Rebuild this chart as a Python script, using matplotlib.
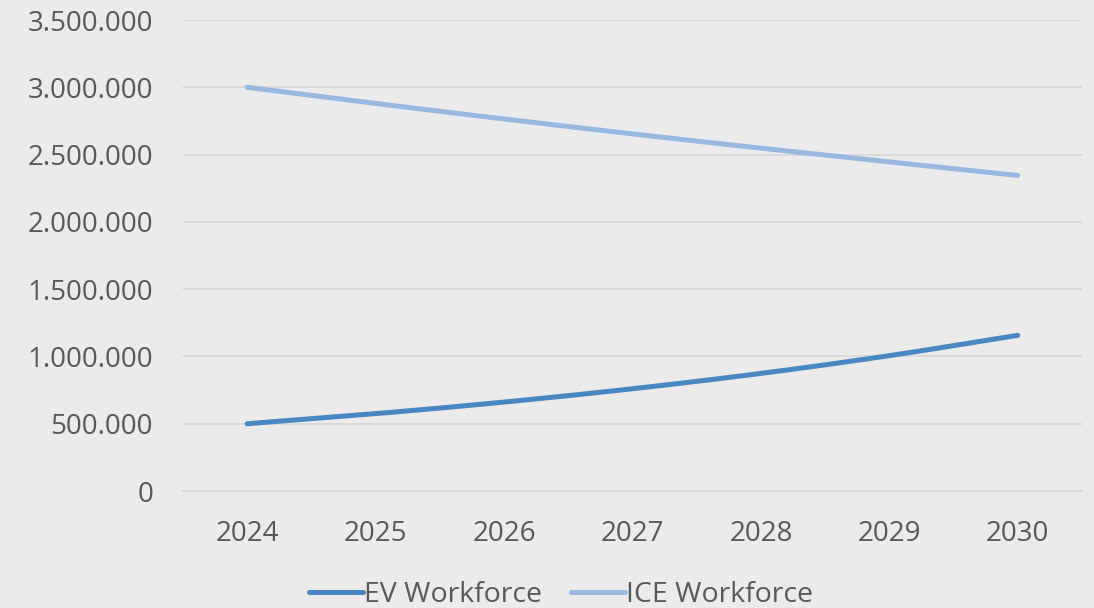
import matplotlib.pyplot as plt
import numpy as np
from matplotlib.ticker import FuncFormatter

years = [2024, 2025, 2026, 2027, 2028, 2029, 2030]
ev_workforce = [500000, 575000, 661000, 760000, 874000, 1006000, 1157000]
ice_workforce = [3000000, 2880000, 2765000, 2654000, 2548000, 2446000, 2345000]

EV_BLUE, ICE_BLUE = "#4a86c0", "#95b9e0"
BG, GRID, TEXT = "#ebebeb", "#d9d9d9", "#595959"

plt.rcParams["font.family"] = ["Open Sans", "DejaVu Sans"]


def smooth(x, y, n=30):
    # Catmull-Rom curve through the points, like Excel's smoothed lines
    x = np.asarray(x, float)
    y = np.asarray(y, float)
    px = np.concatenate([[2 * x[0] - x[1]], x, [2 * x[-1] - x[-2]]])
    py = np.concatenate([[2 * y[0] - y[1]], y, [2 * y[-1] - y[-2]]])
    xs, ys = [], []
    t = np.linspace(0, 1, n)
    for i in range(1, len(px) - 2):
        for p, out in ((px, xs), (py, ys)):
            p0, p1, p2, p3 = p[i - 1], p[i], p[i + 1], p[i + 2]
            out.append(0.5 * (2 * p1 + (-p0 + p2) * t
                              + (2 * p0 - 5 * p1 + 4 * p2 - p3) * t ** 2
                              + (-p0 + 3 * p1 - 3 * p2 + p3) * t ** 3))
    return np.concatenate(xs), np.concatenate(ys)


fig = plt.figure(figsize=(10.94, 6.08), dpi=100, facecolor=BG)
ax = fig.add_axes([0.1673, 0.1924, 0.8217, 0.7746], facecolor=BG)

ax.plot(*smooth(years, ev_workforce), color=EV_BLUE, lw=3.6,
        solid_capstyle="round", label="EV Workforce")
ax.plot(*smooth(years, ice_workforce), color=ICE_BLUE, lw=3.6,
        solid_capstyle="round", label="ICE Workforce")

ax.set_xlim(2023.5, 2030.5)
ax.set_ylim(0, 3500000)
ax.set_yticks(np.arange(0, 3500001, 500000))
ax.set_xticks(years)
ax.yaxis.set_major_formatter(FuncFormatter(lambda v, _: f"{v:,.0f}".replace(",", ".")))
ax.grid(axis="y", color=GRID, lw=1.3)
ax.set_axisbelow(True)
for sp in ("top", "right", "left"):
    ax.spines[sp].set_visible(False)
ax.spines["bottom"].set_color(GRID)
ax.spines["bottom"].set_linewidth(1.3)
ax.tick_params(length=0, labelsize=20, colors=TEXT)
ax.tick_params(axis="y", pad=21.5)
ax.tick_params(axis="x", pad=21)

fig.legend(loc="center", bbox_to_anchor=(0.513, 0.022), ncol=2, frameon=False,
           fontsize=20.5, labelcolor=TEXT, handlelength=1.9, handletextpad=0.05,
           columnspacing=1.0)

fig.savefig("out.png", dpi=100, facecolor=BG)
